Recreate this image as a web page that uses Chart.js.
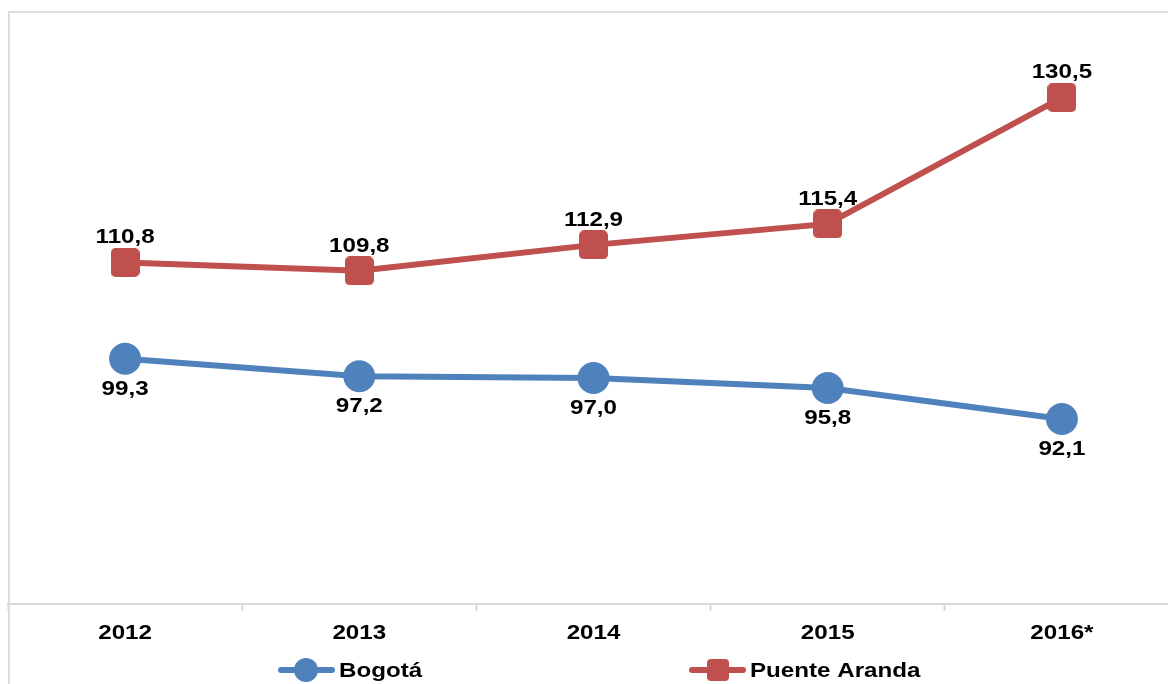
<!DOCTYPE html>
<html>
<head>
<meta charset="utf-8">
<script src="https://cdn.jsdelivr.net/npm/chart.js@4"></script>
<style>
  html, body { margin: 0; padding: 0; background: #fff; overflow: hidden; }
  #wrap { width: 1180px; height: 684px; }
</style>
</head>
<body>
<div id="wrap"><canvas id="lineChart" width="1180" height="684"></canvas></div>
<script>
const years = ['2012', '2013', '2014', '2015', '2016*'];
const bogota = [99.3, 97.2, 97.0, 95.8, 92.1];
const puenteAranda = [110.8, 109.8, 112.9, 115.4, 130.5];

const BLUE = '#4F81BD';
const RED = '#C0504D';
const FONT = 'bold 21px "Liberation Sans", Arial, sans-serif';
const STRETCH = 1.15; // text in the original is a bit wide

// rounded square marker
function roundedSquare(size, color) {
  const c = document.createElement('canvas');
  c.width = size; c.height = size;
  const g = c.getContext('2d');
  g.fillStyle = color;
  g.beginPath();
  g.roundRect(0, 0, size, size, 5);
  g.fill();
  return c;
}
const redMarker = roundedSquare(29, RED);

const fmt = v => v.toFixed(1).replace('.', ',');

function wideText(ctx, text, x, y) {
  ctx.save();
  ctx.translate(x, y);
  ctx.scale(STRETCH, 1);
  ctx.fillText(text, 0, 0);
  ctx.restore();
}

const extras = {
  id: 'extras',
  beforeDraw(chart) {
    const ctx = chart.ctx;
    ctx.save();
    ctx.strokeStyle = '#dedede';
    ctx.lineWidth = 2;
    ctx.strokeRect(9, 12, 1300, 1000);
    ctx.restore();
  },
  afterDatasetsDraw(chart) {
    const ctx = chart.ctx;
    ctx.save();
    ctx.font = FONT;
    ctx.fillStyle = '#000';
    ctx.textAlign = 'center';
    ctx.textBaseline = 'middle';
    chart.getDatasetMeta(0).data.forEach((p, i) => {
      wideText(ctx, fmt(bogota[i]), p.x, p.y + 30);
    });
    chart.getDatasetMeta(1).data.forEach((p, i) => {
      wideText(ctx, fmt(puenteAranda[i]), p.x, p.y - 25);
    });

    // category labels
    const xs = chart.scales.x;
    years.forEach((y, i) => {
      wideText(ctx, y, xs.getPixelForValue(i), 633);
    });

    // legend
    const ly = 670;
    ctx.lineCap = 'round';
    ctx.lineWidth = 6;
    ctx.strokeStyle = BLUE;
    ctx.beginPath(); ctx.moveTo(281, ly); ctx.lineTo(332, ly); ctx.stroke();
    ctx.fillStyle = BLUE;
    ctx.beginPath(); ctx.arc(306, ly, 12, 0, Math.PI * 2); ctx.fill();
    ctx.strokeStyle = RED;
    ctx.beginPath(); ctx.moveTo(692, ly); ctx.lineTo(743, ly); ctx.stroke();
    ctx.fillStyle = RED;
    ctx.beginPath(); ctx.roundRect(707, ly - 11, 22, 22, 4); ctx.fill();
    ctx.fillStyle = '#000';
    ctx.textAlign = 'left';
    wideText(ctx, 'Bogotá', 339, ly + 1);
    wideText(ctx, 'Puente Aranda', 750, ly + 1);
    ctx.restore();
  }
};

new Chart(document.getElementById('lineChart'), {
  type: 'line',
  data: {
    labels: years,
    datasets: [{
      label: 'Bogotá',
      data: bogota,
      borderColor: BLUE,
      backgroundColor: BLUE,
      borderWidth: 6,
      pointRadius: 16,
      pointHoverRadius: 16,
      pointBorderWidth: 0,
      tension: 0
    }, {
      label: 'Puente Aranda',
      data: puenteAranda,
      borderColor: RED,
      backgroundColor: RED,
      borderWidth: 6,
      pointStyle: redMarker,
      pointRadius: 15,
      pointBorderWidth: 0,
      tension: 0
    }]
  },
  options: {
    responsive: false,
    animation: false,
    layout: { autoPadding: false, padding: { left: 8, top: 18, right: 1, bottom: 0 } },
    plugins: {
      legend: { display: false },
      tooltip: { enabled: false }
    },
    scales: {
      x: {
        offset: true,
        grid: {
          offset: true,
          drawOnChartArea: false,
          tickLength: 7,
          tickColor: '#d9d9d9',
          tickWidth: 2
        },
        border: { color: '#d9d9d9', width: 2 },
        ticks: { display: false },
        afterFit(axis) {
          axis.height = 80;
          axis.paddingLeft = 0;
          axis.paddingRight = 0;
        }
      },
      y: {
        display: false,
        min: 70,
        max: 140
      }
    }
  },
  plugins: [extras]
});
</script>
</body>
</html>
